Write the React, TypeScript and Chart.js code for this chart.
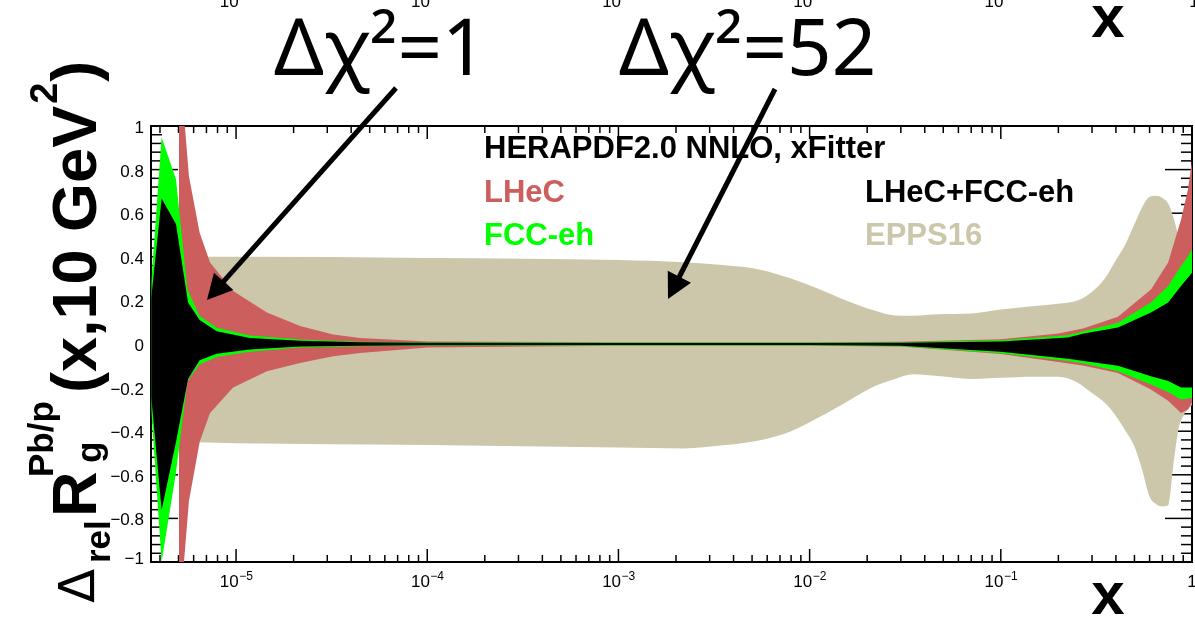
import { useEffect, useRef } from "react";
import { Chart, registerables } from "chart.js";

Chart.register(...registerables);

// Axis ranges
const X_MIN = 3.59e-6;
const X_MAX = 1;
const Y_MIN = -1;
const Y_MAX = 1;

// LHeC+FCC-eh (innermost, black)
const comboX = [3.6e-6, 4.08e-6, 4.85e-6, 5.61e-6, 6.45e-6, 7.92e-6, 1.18e-5, 2.16e-5, 4.46e-5, 1e-4, 1e-3, 1e-2, 3e-2, 0.1, 0.224, 0.272, 0.41, 0.61, 0.75, 0.876, 1.0];
const comboUpper = [0.21, 0.667, 0.55, 0.19, 0.11, 0.059, 0.028, 0.015, 0.008, 0.006, 0.005, 0.005, 0.006, 0.012, 0.03, 0.048, 0.076, 0.145, 0.19, 0.266, 0.327];
const comboLower = [-0.24, -0.761, -0.45, -0.16, -0.075, -0.045, -0.025, -0.012, -0.008, -0.006, -0.005, -0.005, -0.008, -0.035, -0.068, -0.078, -0.1, -0.148, -0.17, -0.2, -0.2];

// FCC-eh (green)
const fccX = [3.6e-6, 4.08e-6, 4.85e-6, 5.57e-6, 6.45e-6, 7.92e-6, 1.18e-5, 2.16e-5, 4.46e-5, 1e-4, 1e-3, 1e-2, 3e-2, 0.1, 0.224, 0.272, 0.41, 0.61, 0.75, 0.876, 0.95, 1.0];
const fccUpper = [0.28, 0.948, 0.756, 0.25, 0.128, 0.074, 0.039, 0.021, 0.01, 0.008, 0.007, 0.007, 0.008, 0.017, 0.04, 0.059, 0.097, 0.19, 0.266, 0.358, 0.4, 0.434];
const fccLower = [-0.3, -1.0, -0.59, -0.17, -0.094, -0.06, -0.036, -0.016, -0.01, -0.008, -0.007, -0.007, -0.01, -0.042, -0.078, -0.09, -0.125, -0.186, -0.22, -0.255, -0.25, -0.247];

// LHeC (red)
const lhecX = [5.03e-6, 5.34e-6, 5.67e-6, 6.45e-6, 7.31e-6, 9.65e-6, 1.45e-5, 2.16e-5, 3.22e-5, 4.46e-5, 1e-4, 1e-3, 1e-2, 3e-2, 0.1, 0.2, 0.272, 0.41, 0.61, 0.75, 0.876, 0.953, 1.0];
const lhecUpper = [3, 1.05, 0.77, 0.51, 0.374, 0.243, 0.145, 0.082, 0.044, 0.028, 0.012, 0.008, 0.008, 0.01, 0.022, 0.048, 0.072, 0.125, 0.25, 0.374, 0.57, 0.71, 0.84];
const lhecLower = [-3, -1.0, -0.72, -0.45, -0.316, -0.2, -0.125, -0.087, -0.056, -0.041, -0.016, -0.008, -0.008, -0.012, -0.046, -0.083, -0.1, -0.133, -0.209, -0.26, -0.316, -0.3, -0.27];

// EPPS16 (tan)
const eppsX = [5.12e-6, 1e-5, 1e-4, 1e-3, 2.2e-3, 3.5e-3, 5.6e-3, 8e-3, 1.1e-2, 1.6e-2, 2.2e-2, 2.8e-2, 3.5e-2, 4.7e-2, 0.07, 0.1, 0.15, 0.2, 0.25, 0.3, 0.35, 0.4, 0.45, 0.5, 0.55, 0.6, 0.65, 0.7, 0.75, 0.8, 0.85, 0.9, 0.95, 1.0];
const eppsUpper = [0.4, 0.4, 0.395, 0.385, 0.375, 0.362, 0.34, 0.3, 0.255, 0.195, 0.152, 0.131, 0.13, 0.137, 0.14, 0.158, 0.174, 0.185, 0.198, 0.24, 0.3, 0.385, 0.46, 0.55, 0.63, 0.675, 0.68, 0.67, 0.645, 0.58, 0.49, 0.4, 0.32, 0.25];
const eppsLower = [-0.45, -0.455, -0.463, -0.475, -0.479, -0.465, -0.44, -0.4, -0.34, -0.26, -0.193, -0.16, -0.139, -0.147, -0.16, -0.155, -0.15, -0.15, -0.175, -0.225, -0.27, -0.33, -0.4, -0.47, -0.58, -0.7, -0.735, -0.745, -0.74, -0.55, -0.39, -0.33, -0.3, -0.28];

// Tick labels
const yTickValues = [1, 0.8, 0.6, 0.4, 0.2, 0, -0.2, -0.4, -0.6, -0.8, -1];
const yTickLabels = ["1", "0.8", "0.6", "0.4", "0.2", "0", "\u22120.2", "\u22120.4", "\u22120.6", "\u22120.8", "\u22121"];
const xDecadeValues = [1e-5, 1e-4, 1e-3, 1e-2, 1e-1];
const xDecadeExponents = ["\u22125", "\u22124", "\u22123", "\u22122", "\u22121"];

// Texts
const legendTitle = "HERAPDF2.0 NNLO, xFitter";
const legendLeft = ["LHeC", "FCC-eh"];
const legendRight = ["LHeC+FCC-eh", "EPPS16"];
const annotationTexts = ["\u0394\u03c7\u00b2=1", "\u0394\u03c7\u00b2=52"];

const RED = "rgb(205, 94, 94)";
const GREEN = "#00ff00";
const TAN = "rgb(204, 198, 170)";
const BLACK = "#000000";

const SANS = '"Liberation Sans", Arial, Helvetica, sans-serif';

function toPoints(xs: number[], ys: number[]) {
  return xs.map((x, i) => ({ x, y: ys[i] }));
}

function band(label: string, xs: number[], up: number[], lo: number[], color: string, order: number, upperIndex: number, smooth: boolean) {
  const common = {
    borderColor: "rgba(0,0,0,0)",
    borderWidth: 0,
    backgroundColor: color,
    pointRadius: 0,
    pointHoverRadius: 0,
    order,
    tension: 0,
    cubicInterpolationMode: smooth ? "monotone" : "default",
  };
  return [
    { ...common, label, data: toPoints(xs, up), fill: upperIndex + 1 },
    { ...common, label: label + " low", data: toPoints(xs, lo), fill: false },
  ];
}

function line(ctx: CanvasRenderingContext2D, x0: number, y0: number, x1: number, y1: number) {
  ctx.beginPath();
  ctx.moveTo(x0, y0);
  ctx.lineTo(x1, y1);
  ctx.stroke();
}

// Frame and inward ticks, drawn beneath the bands
const frameTicks = {
  id: "frameTicks",
  beforeDatasetsDraw(chart: any) {
    const { ctx, chartArea: a, scales } = chart;
    const xs = scales.x;
    const ys = scales.y;
    ctx.save();
    ctx.strokeStyle = BLACK;
    ctx.lineWidth = 1.5;
    for (let i = 0; i <= 50; i++) {
      const v = Y_MIN + i * 0.04;
      const py = ys.getPixelForValue(v);
      const len = i % 5 === 0 ? 27 : 11;
      line(ctx, a.left, py, a.left + len, py);
      line(ctx, a.right, py, a.right - len, py);
    }
    for (let d = -6; d <= 0; d++) {
      for (let k = 1; k <= 9; k++) {
        const v = k * Math.pow(10, d);
        if (v < X_MIN || v > X_MAX * 1.0001) continue;
        const px = xs.getPixelForValue(v);
        const len = k === 1 ? 13 : 7;
        line(ctx, px, a.bottom, px, a.bottom - len);
        line(ctx, px, a.top, px, a.top + len);
      }
    }
    ctx.lineWidth = 2;
    ctx.strokeRect(a.left, a.top, a.right - a.left, a.bottom - a.top);
    ctx.restore();
  },
};

function drawArrow(ctx: CanvasRenderingContext2D, x0: number, y0: number, x1: number, y1: number) {
  const dx = x1 - x0;
  const dy = y1 - y0;
  const L = Math.hypot(dx, dy);
  const ux = dx / L;
  const uy = dy / L;
  const headLen = 25;
  const halfW = 13;
  const bx = x1 - ux * headLen;
  const by = y1 - uy * headLen;
  ctx.lineWidth = 5;
  ctx.lineCap = "butt";
  line(ctx, x0, y0, bx + ux * 2, by + uy * 2);
  ctx.beginPath();
  ctx.moveTo(x1, y1);
  ctx.lineTo(bx - uy * halfW, by + ux * halfW);
  ctx.lineTo(bx + uy * halfW, by - ux * halfW);
  ctx.closePath();
  ctx.fill();
}

function drawDecadeLabel(ctx: CanvasRenderingContext2D, cx: number, baseline: number, exp: string) {
  ctx.font = `17px ${SANS}`;
  const w1 = ctx.measureText("10").width;
  ctx.font = `12px ${SANS}`;
  const w2 = ctx.measureText(exp).width;
  const start = cx - (w1 + w2) / 2;
  ctx.font = `17px ${SANS}`;
  ctx.fillText("10", start, baseline);
  ctx.font = `12px ${SANS}`;
  ctx.fillText(exp, start + w1 + 0.5, baseline - 7);
}

const annotate = {
  id: "annotate",
  afterDraw(chart: any) {
    const { ctx, scales } = chart;
    const xs = scales.x;
    const ys = scales.y;
    ctx.save();
    ctx.fillStyle = BLACK;
    ctx.strokeStyle = BLACK;
    ctx.textAlign = "left";
    ctx.textBaseline = "alphabetic";

    // y tick labels
    ctx.font = `17px ${SANS}`;
    ctx.textAlign = "right";
    yTickValues.forEach((v, i) => {
      let py = ys.getPixelForValue(v) + 7;
      if (v === Y_MIN) py -= 5;
      ctx.fillText(yTickLabels[i], 144, py);
    });
    ctx.textAlign = "left";

    // x tick labels (and the clipped labels of the panel above)
    xDecadeValues.forEach((v, i) => {
      const px = xs.getPixelForValue(v);
      drawDecadeLabel(ctx, px, 587, xDecadeExponents[i]);
      drawDecadeLabel(ctx, px, 7, xDecadeExponents[i]);
    });
    ctx.font = `17px ${SANS}`;
    ctx.textAlign = "center";
    const pxOne = xs.getPixelForValue(1);
    ctx.fillText("1", pxOne, 587);
    ctx.fillText("1", pxOne + 2, 7);

    // x axis titles
    ctx.font = `bold 60px ${SANS}`;
    ctx.fillText("x", 1108, 614);
    ctx.fillText("x", 1108, 37);
    ctx.textAlign = "left";

    // legend
    ctx.font = `bold 31px ${SANS}`;
    ctx.fillStyle = BLACK;
    ctx.fillText(legendTitle, 484, 158);
    ctx.fillStyle = RED;
    ctx.fillText(legendLeft[0], 484, 202);
    ctx.fillStyle = GREEN;
    ctx.fillText(legendLeft[1], 484, 245);
    ctx.fillStyle = BLACK;
    ctx.fillText(legendRight[0], 865, 202);
    ctx.fillStyle = TAN;
    ctx.fillText(legendRight[1], 865, 245);

    // big annotations and arrows
    ctx.fillStyle = BLACK;
    ctx.font = `78px "Noto Sans", "DejaVu Sans", sans-serif`;
    ctx.fillText(annotationTexts[0], 274, 75);
    ctx.fillText(annotationTexts[1], 619, 75);
    drawArrow(ctx, 396, 88, 207, 300);
    drawArrow(ctx, 775, 89, 668, 299);

    // y axis title, rotated
    ctx.save();
    ctx.translate(96, 605);
    ctx.rotate(-Math.PI / 2);
    ctx.font = `50px "DejaVu Sans", sans-serif`;
    ctx.fillText("\u0394", 2, -2);
    ctx.font = `bold 35px ${SANS}`;
    ctx.fillText("rel", 42, 14);
    ctx.font = `bold 63px ${SANS}`;
    ctx.fillText("R", 88, 0);
    ctx.font = `bold 35px ${SANS}`;
    ctx.fillText("g", 142, 5);
    ctx.fillText("Pb/p", 128, -43);
    ctx.font = `bold 63px ${SANS}`;
    const main = "(x,10 GeV";
    ctx.fillText(main, 212, 0);
    const w = ctx.measureText(main).width;
    ctx.font = `bold 38px ${SANS}`;
    ctx.fillText("2", 212 + w + 2, -39);
    const w2 = ctx.measureText("2").width;
    ctx.font = `bold 63px ${SANS}`;
    ctx.fillText(")", 212 + w + w2 + 3, 0);
    ctx.restore();

    ctx.restore();
  },
};

export default function App() {
  const canvasRef = useRef<HTMLCanvasElement | null>(null);

  useEffect(() => {
    const canvas = canvasRef.current;
    if (!canvas) return;
    const datasets = [
      ...band("LHeC+FCC-eh", comboX, comboUpper, comboLower, BLACK, 0, 0, false),
      ...band("FCC-eh", fccX, fccUpper, fccLower, GREEN, 1, 2, false),
      ...band("LHeC", lhecX, lhecUpper, lhecLower, RED, 2, 4, false),
      ...band("EPPS16", eppsX, eppsUpper, eppsLower, TAN, 3, 6, true),
    ];
    const chart = new Chart(canvas, {
      type: "line",
      data: { datasets: datasets as any },
      options: {
        animation: false,
        responsive: false,
        devicePixelRatio: 1,
        layout: { padding: { left: 151, right: 3, top: 126, bottom: 56 } },
        scales: {
          x: { type: "logarithmic", min: X_MIN, max: X_MAX, display: false },
          y: { type: "linear", min: Y_MIN, max: Y_MAX, display: false },
        },
        plugins: {
          legend: { display: false },
          tooltip: { enabled: false },
        },
        events: [],
      },
      plugins: [frameTicks, annotate],
    });
    return () => chart.destroy();
  }, []);

  return (
    <div style={{ position: "absolute", left: 0, top: 0, width: 1195, height: 618, background: "#fff" }}>
      <canvas ref={canvasRef} width={1195} height={618} style={{ display: "block" }} />
    </div>
  );
}
